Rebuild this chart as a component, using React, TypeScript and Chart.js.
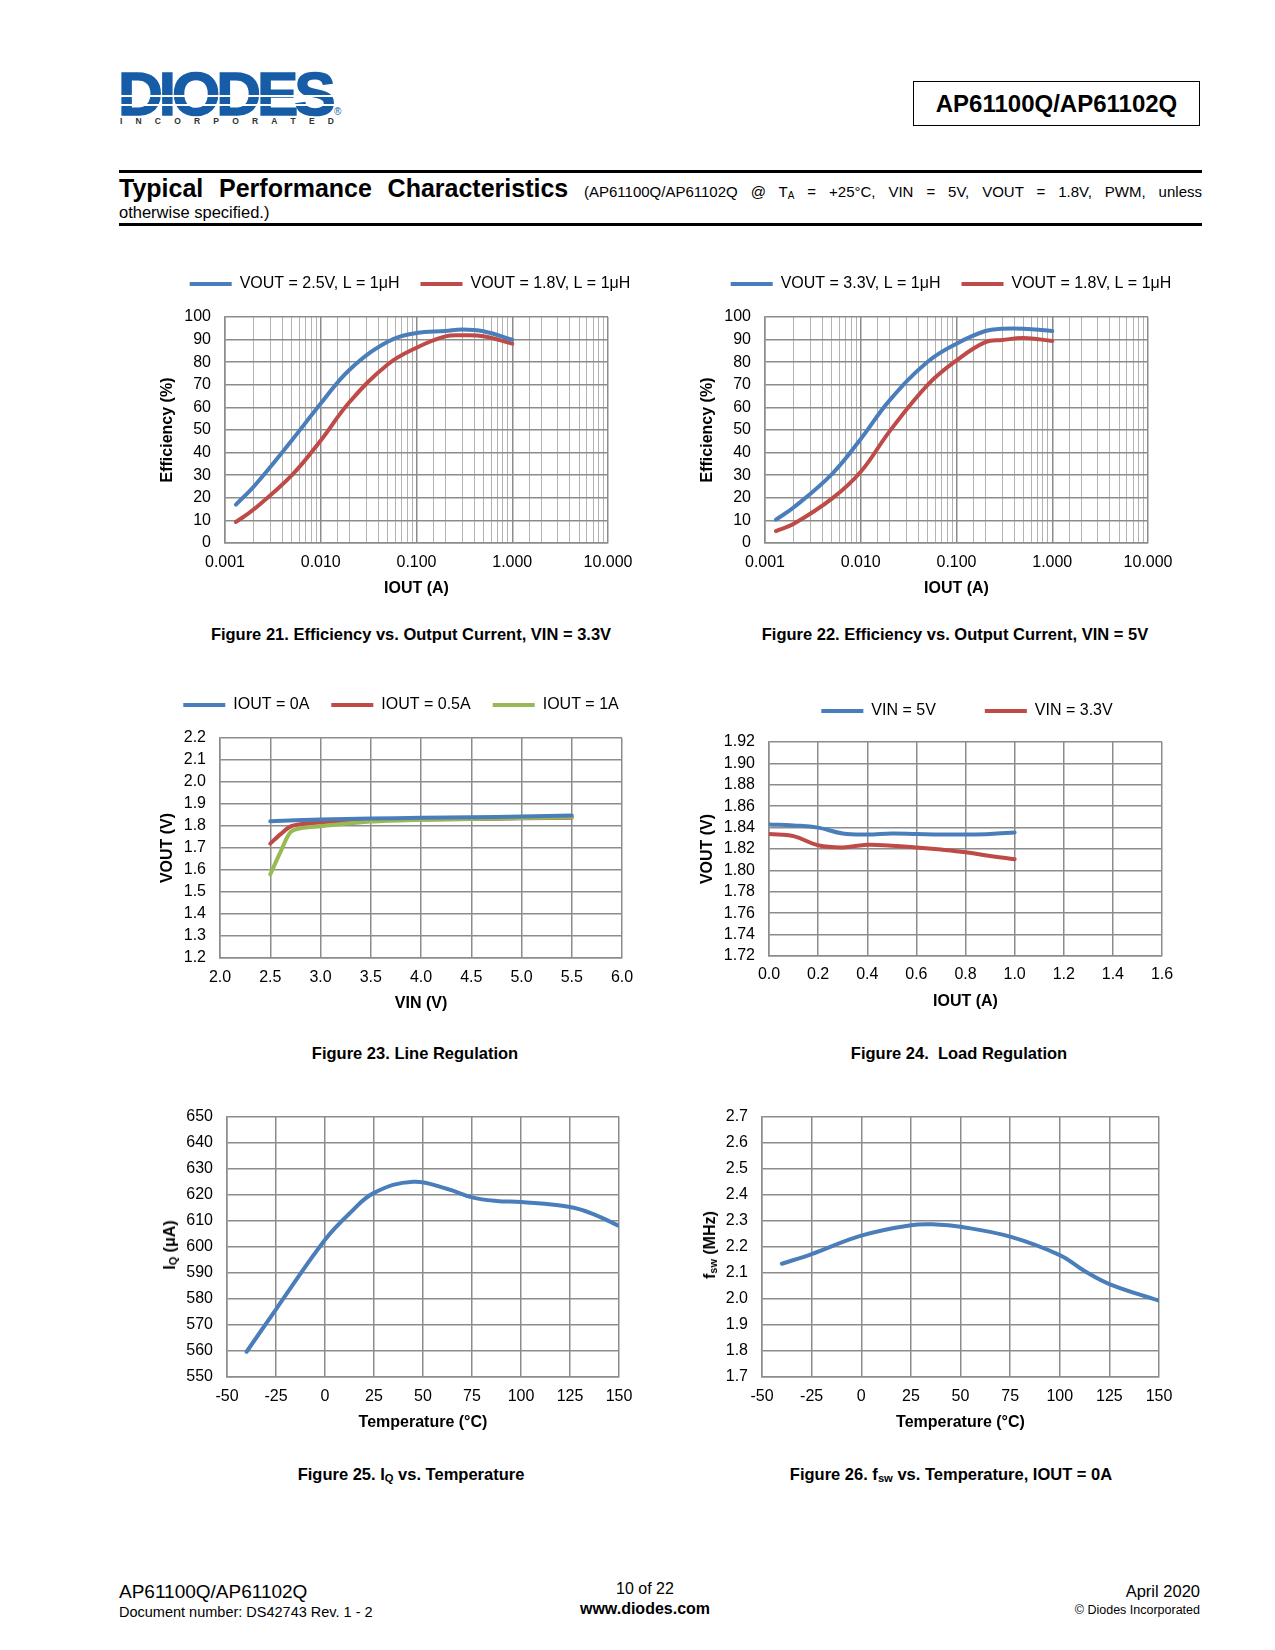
import React, { useEffect, useRef } from 'react';
import { Chart, registerables } from 'chart.js';

Chart.register(...registerables);

const FONT = '"Liberation Sans", Arial, Helvetica, sans-serif';
const BLUE = '#4a7ebb';
const RED = '#be4b48';
const GREEN = '#98b954';
const GRID = '#8c8c8c';
const GRID_MINOR = '#b2b2b2';

// ---------- Figure 21: Efficiency vs IOUT, VIN = 3.3V ----------
const fig21Iout = [0.0013, 0.002, 0.005, 0.01, 0.02, 0.05, 0.1, 0.2, 0.3, 0.5, 1.0];
const fig21Vout25 = [17, 25, 45.5, 61.7, 76.7, 89, 92.9, 93.8, 94.5, 93.7, 90];
const fig21Vout18 = [9.3, 14.9, 30, 45.4, 62.4, 79, 86.4, 91.4, 91.9, 91.5, 88.2];

// ---------- Figure 22: Efficiency vs IOUT, VIN = 5V ----------
const fig22Iout = [0.0013, 0.002, 0.005, 0.01, 0.02, 0.05, 0.1, 0.2, 0.3, 0.5, 1.0];
const fig22Vout33 = [10.3, 15.8, 30.5, 46, 63.1, 80.2, 88.2, 93.8, 94.8, 94.8, 93.8];
const fig22Vout18 = [5.3, 8.5, 19.6, 31.5, 49.4, 70, 80.8, 88.9, 89.8, 90.7, 89.4];

// ---------- Figure 23: Line regulation ----------
const fig23VinA = [2.5, 3.0, 3.5, 4.0, 4.5, 5.0, 5.5];
const fig23Iout0 = [1.822, 1.829, 1.834, 1.837, 1.84, 1.843, 1.848];
const fig23VinB = [2.5, 2.6, 2.7, 2.8, 3.0, 3.5, 4.0, 4.5, 5.0, 5.5];
const fig23Iout05 = [1.72, 1.762, 1.797, 1.808, 1.816, 1.828, 1.83, 1.832, 1.835, 1.838];
const fig23Iout1 = [1.58, 1.68, 1.772, 1.79, 1.799, 1.82, 1.828, 1.832, 1.836, 1.84];

// ---------- Figure 24: Load regulation ----------
const fig24Iout = [0, 0.1, 0.2, 0.3, 0.4, 0.5, 0.6, 0.7, 0.8, 0.9, 1.0];
const fig24Vin5 = [1.843, 1.842, 1.84, 1.8345, 1.8335, 1.8345, 1.834, 1.8335, 1.8335, 1.834, 1.8355];
const fig24Vin33 = [1.834, 1.832, 1.8235, 1.8215, 1.824, 1.823, 1.8215, 1.8195, 1.817, 1.8135, 1.8105];

// ---------- Figure 25: IQ vs Temperature ----------
const fig25Temp = [-40, -25, 0, 12.5, 25, 45, 62.5, 75, 87.5, 100, 125, 137.5, 150];
const fig25Iq = [559.7, 576, 602.7, 612.8, 620.7, 625, 622.2, 619, 617.6, 617.2, 615.3, 612.4, 608];

// ---------- Figure 26: fsw vs Temperature ----------
const fig26Temp = [-40, -25, 0, 25, 37.5, 50, 75, 100, 112.5, 125, 150];
const fig26Fsw = [2.135, 2.172, 2.243, 2.283, 2.286, 2.277, 2.239, 2.168, 2.107, 2.057, 1.993];

const isDecade = (v: number) => {
  const l = Math.log10(v);
  return Math.abs(l - Math.round(l)) < 1e-6;
};

function ds(label: string, xs: number[], ys: number[], color: string, order = 0, tension = 0.4) {
  return {
    label,
    data: xs.map((x, i) => ({ x, y: ys[i] })),
    borderColor: color,
    backgroundColor: color,
    borderWidth: 4,
    pointRadius: 0,
    pointHoverRadius: 0,
    tension,
    borderCapStyle: 'round',
    borderJoinStyle: 'round',
    fill: false,
    order,
  };
}

type Geo = {
  L: number; R: number; T: number; B: number;
  yW: number; xH: number; rp: number; top: number;
  legendPad?: number; legendCX?: number;
};

const tickFont = { size: 16, family: FONT };
const titleFont = { size: 16, family: FONT, weight: 'bold' as const };

function linAxis(min: number, max: number, step: number, dec: number, pad: number, title?: string, titlePad?: any) {
  return {
    type: 'linear',
    min, max,
    ticks: { stepSize: step, autoSkip: false, maxRotation: 0, color: '#000', font: tickFont, padding: pad, callback: (v: any) => Number(v).toFixed(dec) },
    grid: { color: GRID, lineWidth: 1.5, drawTicks: false },
    border: { color: GRID, width: 1.5 },
    title: title ? { display: true, text: title, color: '#000', font: titleFont, padding: titlePad } : { display: false },
  };
}

function logAxis(pad: number, title: string, titlePad: any) {
  return {
    type: 'logarithmic',
    min: 0.001, max: 10,
    ticks: {
      autoSkip: false, maxRotation: 0, color: '#000', font: tickFont, padding: pad,
      callback: (v: any) => (isDecade(Number(v)) ? Number(v).toFixed(3) : ''),
    },
    grid: {
      drawTicks: false,
      color: (c: any) => (c.tick && isDecade(c.tick.value) ? GRID : GRID_MINOR),
      lineWidth: (c: any) => (c.tick && isDecade(c.tick.value) ? 1.5 : 1),
    },
    border: { color: GRID, width: 1.5 },
    title: { display: true, text: title, color: '#000', font: titleFont, padding: titlePad },
  };
}

function buildConfig(g: Geo, datasets: any[], xs: any, ys: any) {
  const canvasLeft = g.L - g.yW;
  const headH = g.T - g.top;
  const hasLegend = g.legendPad != null;
  const plugins: any[] = [];
  if (hasLegend) {
    plugins.push({
      id: 'legendFix',
      afterInit(chart: any) {
        const lg = chart.legend;
        if (!lg) return;
        const fit = lg.fit.bind(lg);
        lg.fit = () => {
          lg.maxWidth = 5000;
          fit();
          lg.height = headH;
        };
      },
      afterLayout(chart: any) {
        const lg = chart.legend;
        if (!lg) return;
        const cx = (g.legendCX as number) - canvasLeft;
        lg.left = cx - 1000;
        lg.right = cx + 1000;
        lg.width = 2000;
      },
    });
  }
  return {
    type: 'line',
    data: { datasets },
    options: {
      animation: false,
      responsive: false,
      maintainAspectRatio: false,
      events: [],
      layout: { padding: { left: 0, right: g.rp, top: hasLegend ? 0 : headH, bottom: 0 } },
      plugins: {
        tooltip: { enabled: false },
        legend: hasLegend
          ? {
              display: true,
              position: 'top',
              labels: {
                usePointStyle: true,
                pointStyle: 'line',
                pointStyleWidth: 42,
                padding: g.legendPad,
                color: '#000',
                font: { size: 16, family: FONT },
                sort: (a: any, b: any) => a.datasetIndex - b.datasetIndex,
              },
            }
          : { display: false },
      },
      scales: {
        x: { ...xs, afterFit: (s: any) => { s.height = g.xH; } },
        y: { ...ys, afterFit: (s: any) => { s.width = g.yW; } },
      },
    },
    plugins,
  };
}

function ChartBox({ g, make }: { g: Geo; make: () => any }) {
  const ref = useRef<HTMLCanvasElement>(null);
  const left = g.L - g.yW;
  const width = g.R - left + g.rp;
  const height = g.B - g.top + g.xH;
  useEffect(() => {
    const chart = new Chart(ref.current as HTMLCanvasElement, make());
    return () => chart.destroy();
  }, []);
  return (
    <div style={{ position: 'absolute', left, top: g.top, width, height }}>
      <canvas ref={ref} width={width} height={height} style={{ width, height, display: 'block' }} />
    </div>
  );
}

function Txt({ x, y, size, bold = false, align = 'left', color = '#000', children, style = {} }: any) {
  const tx = align === 'left' ? '0' : align === 'center' ? '-50%' : '-100%';
  return (
    <div
      style={{
        position: 'absolute', left: x, top: y, transform: `translate(${tx},-50%)`,
        fontSize: size, lineHeight: 1, fontWeight: bold ? 700 : 400, fontFamily: FONT,
        whiteSpace: 'nowrap', color, ...style,
      }}
    >
      {children}
    </div>
  );
}

const Sub = ({ children, size = '0.68em' }: any) => (
  <span style={{ fontSize: size, position: 'relative', top: '0.22em' }}>{children}</span>
);

function VTitle({ x, y, children }: any) {
  return (
    <div
      style={{
        position: 'absolute', left: x, top: y, transform: 'translate(-50%,-50%) rotate(-90deg)',
        fontSize: 16, lineHeight: 1, fontWeight: 700, fontFamily: FONT, whiteSpace: 'nowrap', color: '#000',
      }}
    >
      {children}
    </div>
  );
}

const G21: Geo = { L: 225, R: 608, T: 317, B: 543, yW: 70, xH: 60, rp: 40, top: 255, legendPad: 21, legendCX: 410 };
const G22: Geo = { L: 765, R: 1148, T: 317, B: 543, yW: 70, xH: 60, rp: 40, top: 255, legendPad: 21, legendCX: 951 };
const G23: Geo = { L: 220, R: 622, T: 738, B: 958, yW: 65, xH: 60, rp: 30, top: 675, legendPad: 22, legendCX: 401 };
const G24: Geo = { L: 769, R: 1162, T: 742, B: 956, yW: 72, xH: 60, rp: 30, top: 654, legendPad: 49, legendCX: 967 };
const G25: Geo = { L: 227, R: 619, T: 1113, B: 1377, yW: 72, xH: 60, rp: 30, top: 1093 };
const G26: Geo = { L: 762, R: 1159, T: 1113, B: 1377, yW: 72, xH: 60, rp: 30, top: 1093 };

const make21 = () =>
  buildConfig(
    G21,
    [ds('VOUT = 2.5V, L = 1μH', fig21Iout, fig21Vout25, BLUE), ds('VOUT = 1.8V, L = 1μH', fig21Iout, fig21Vout18, RED)],
    logAxis(10, 'IOUT (A)', { top: 0, bottom: 5 }),
    linAxis(0, 100, 10, 0, 14, 'Efficiency (%)', { top: 3, bottom: 0 })
  );

const make22 = () =>
  buildConfig(
    G22,
    [ds('VOUT = 3.3V, L = 1μH', fig22Iout, fig22Vout33, BLUE), ds('VOUT = 1.8V, L = 1μH', fig22Iout, fig22Vout18, RED)],
    logAxis(10, 'IOUT (A)', { top: 0, bottom: 5 }),
    linAxis(0, 100, 10, 0, 14, 'Efficiency (%)', { top: 3, bottom: 0 })
  );

const make23 = () =>
  buildConfig(
    G23,
    [
      ds('IOUT = 0A', fig23VinA, fig23Iout0, BLUE, 0, 0.3),
      ds('IOUT = 0.5A', fig23VinB, fig23Iout05, RED, 2, 0.3),
      ds('IOUT = 1A', fig23VinB, fig23Iout1, GREEN, 1, 0.3),
    ],
    linAxis(2, 6, 0.5, 1, 10, 'VIN (V)', { top: 0, bottom: 5 }),
    linAxis(1.2, 2.2, 0.1, 1, 14, 'VOUT (V)', { top: 3, bottom: 0 })
  );

const make24 = () =>
  buildConfig(
    G24,
    [ds('VIN = 5V', fig24Iout, fig24Vin5, BLUE), ds('VIN = 3.3V', fig24Iout, fig24Vin33, RED)],
    linAxis(0, 1.6, 0.2, 1, 9, 'IOUT (A)', { top: 0, bottom: 5 }),
    linAxis(1.72, 1.92, 0.02, 2, 14, 'VOUT (V)', { top: 1, bottom: 0 })
  );

const make25 = () =>
  buildConfig(
    G25,
    [ds('IQ', fig25Temp, fig25Iq, BLUE)],
    linAxis(-50, 150, 25, 0, 10, 'Temperature (°C)', { top: 0, bottom: 5 }),
    linAxis(550, 650, 10, 0, 14)
  );

const make26 = () =>
  buildConfig(
    G26,
    [ds('fsw', fig26Temp, fig26Fsw, BLUE)],
    linAxis(-50, 150, 25, 0, 10, 'Temperature (°C)', { top: 0, bottom: 5 }),
    linAxis(1.7, 2.7, 0.1, 1, 14)
  );

export default function App() {
  const logoLetters = 'INCORPORATED'.split('');
  return (
    <div style={{ position: 'absolute', left: 0, top: 0, width: 1275, height: 1650, overflow: 'hidden', background: '#fff', fontFamily: FONT }}>
      {/* Logo */}
      <div style={{ position: 'absolute', left: 118, top: 63, fontSize: 62, lineHeight: 1, fontWeight: 700, color: '#165ca6', letterSpacing: -4, fontFamily: FONT, WebkitTextStroke: '1.5px #165ca6' } as any}>
        DIODES
      </div>
      <div style={{ position: 'absolute', left: 118, top: 95, width: 220, height: 2, background: '#fff' }} />
      <div style={{ position: 'absolute', left: 118, top: 104, width: 220, height: 2, background: '#fff' }} />
      <div style={{ position: 'absolute', left: 120, top: 116.5, width: 214, height: 9, display: 'flex', justifyContent: 'space-between', fontSize: 8.5, lineHeight: '9px', fontWeight: 700, color: '#333', fontFamily: FONT }}>
        {logoLetters.map((c, i) => (
          <span key={i}>{c}</span>
        ))}
      </div>
      <Txt x={334} y={112} size={10} color="#165ca6">®</Txt>

      {/* Part number box */}
      <div style={{ position: 'absolute', left: 913, top: 81, width: 285, height: 43, border: '1.5px solid #000', display: 'flex', alignItems: 'center', justifyContent: 'center', fontSize: 24, fontWeight: 700, fontFamily: FONT }}>
        AP61100Q/AP61102Q
      </div>

      {/* Section header */}
      <div style={{ position: 'absolute', left: 119, top: 170, width: 1083, height: 3, background: '#000' }} />
      <div style={{ position: 'absolute', left: 119, top: 176, width: 1083, lineHeight: '25px', fontSize: 25, textAlign: 'justify', textAlignLast: 'justify', fontFamily: FONT, whiteSpace: 'normal' } as any}>
        <span style={{ fontWeight: 700 }}>Typical Performance Characteristics</span>{' '}
        <span style={{ fontSize: 15 }}>
          (AP61100Q/AP61102Q @ T<Sub size="10px">A</Sub> = +25°C, VIN = 5V, VOUT = 1.8V, PWM, unless
        </span>
      </div>
      <Txt x={119} y={212} size={16.5}>otherwise specified.)</Txt>
      <div style={{ position: 'absolute', left: 119, top: 223, width: 1083, height: 3, background: '#000' }} />

      {/* Charts */}
      <ChartBox g={G21} make={make21} />
      <ChartBox g={G22} make={make22} />
      <ChartBox g={G23} make={make23} />
      <ChartBox g={G24} make={make24} />
      <ChartBox g={G25} make={make25} />
      <ChartBox g={G26} make={make26} />

      <VTitle x={170} y={1245}>
        I<Sub>Q</Sub> (μA)
      </VTitle>
      <VTitle x={710} y={1245}>
        f<Sub>sw</Sub> (MHz)
      </VTitle>

      {/* Captions */}
      <Txt x={411} y={634} size={16.5} bold align="center">Figure 21. Efficiency vs. Output Current, VIN = 3.3V</Txt>
      <Txt x={955} y={634} size={16.5} bold align="center">Figure 22. Efficiency vs. Output Current, VIN = 5V</Txt>
      <Txt x={415} y={1053} size={16.5} bold align="center">Figure 23. Line Regulation</Txt>
      <Txt x={959} y={1053} size={16.5} bold align="center">Figure 24.&nbsp; Load Regulation</Txt>
      <Txt x={411} y={1474} size={16.5} bold align="center">
        Figure 25. I<Sub>Q</Sub> vs. Temperature
      </Txt>
      <Txt x={951} y={1474} size={16.5} bold align="center">
        Figure 26. f<Sub>sw</Sub> vs. Temperature, IOUT = 0A
      </Txt>

      {/* Footer */}
      <Txt x={119} y={1591} size={19}>AP61100Q/AP61102Q</Txt>
      <Txt x={119} y={1612} size={14.5}>Document number: DS42743 Rev. 1 - 2</Txt>
      <Txt x={645} y={1589} size={16} align="center">10 of 22</Txt>
      <Txt x={645} y={1609} size={16} bold align="center">www.diodes.com</Txt>
      <Txt x={1200} y={1591} size={16.5} align="right">April 2020</Txt>
      <Txt x={1200} y={1610} size={12.5} align="right">© Diodes Incorporated</Txt>
    </div>
  );
}
